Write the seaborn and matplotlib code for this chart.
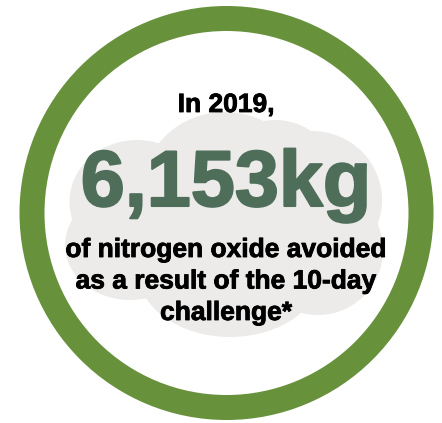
import matplotlib
matplotlib.use("Agg")
import matplotlib.pyplot as plt
import matplotlib.patheffects as pe
from matplotlib.patches import Circle, Ellipse
import seaborn as sns

sns.set_theme(style="white")
plt.rcParams['font.family'] = ['Liberation Sans', 'DejaVu Sans']

# infographic content
year_label = "In 2019,"
headline_value = "6,153kg"
caption_lines = ["of nitrogen oxide avoided",
                 "as a result of the 10-day",
                 "challenge*"]

ring_color = "#68913c"
value_color = "#4e6e5a"
cloud_color = "#ecebea"

# cloud made of overlapping blobs (x, y, w, h) in pixel space
cloud_x = [225, 137, 312, 130, 318, 230, 225, 275]
cloud_y = [190, 202, 200, 245, 250, 270, 225, 165]
cloud_w = [165, 135, 140, 130, 130, 185, 240, 110]
cloud_h = [156, 124, 138, 110, 130, 134, 170, 90]

fig = plt.figure(figsize=(4.42, 4.23), dpi=100)
ax = fig.add_axes([0, 0, 1, 1])
ax.set_xlim(0, 442)
ax.set_ylim(423, 0)
ax.set_aspect("equal")
ax.axis("off")

for cx, cy, w, h in zip(cloud_x, cloud_y, cloud_w, cloud_h):
    ax.add_patch(Ellipse((cx, cy), w, h, facecolor=cloud_color, edgecolor="none"))

ring = Circle((226.5, 213), 194.5, facecolor="none", edgecolor=ring_color, linewidth=25 * 72 / 100)
ax.add_patch(ring)

ax.text(226, 112, year_label, ha="center", va="baseline", fontsize=19,
        fontweight="bold", color="black",
        path_effects=[pe.withStroke(linewidth=0.6, foreground="black")])
ax.text(226, 206, headline_value, ha="center", va="baseline", fontsize=57,
        fontweight="bold", color=value_color,
        path_effects=[pe.withStroke(linewidth=1.5, foreground=value_color)])
for i, line in enumerate(caption_lines):
    ax.text(226, 257 + i * 31.5, line, ha="center", va="baseline", fontsize=19,
            fontweight="bold", color="black",
            path_effects=[pe.withStroke(linewidth=0.6, foreground="black")])

plt.savefig("out.png", dpi=100)
